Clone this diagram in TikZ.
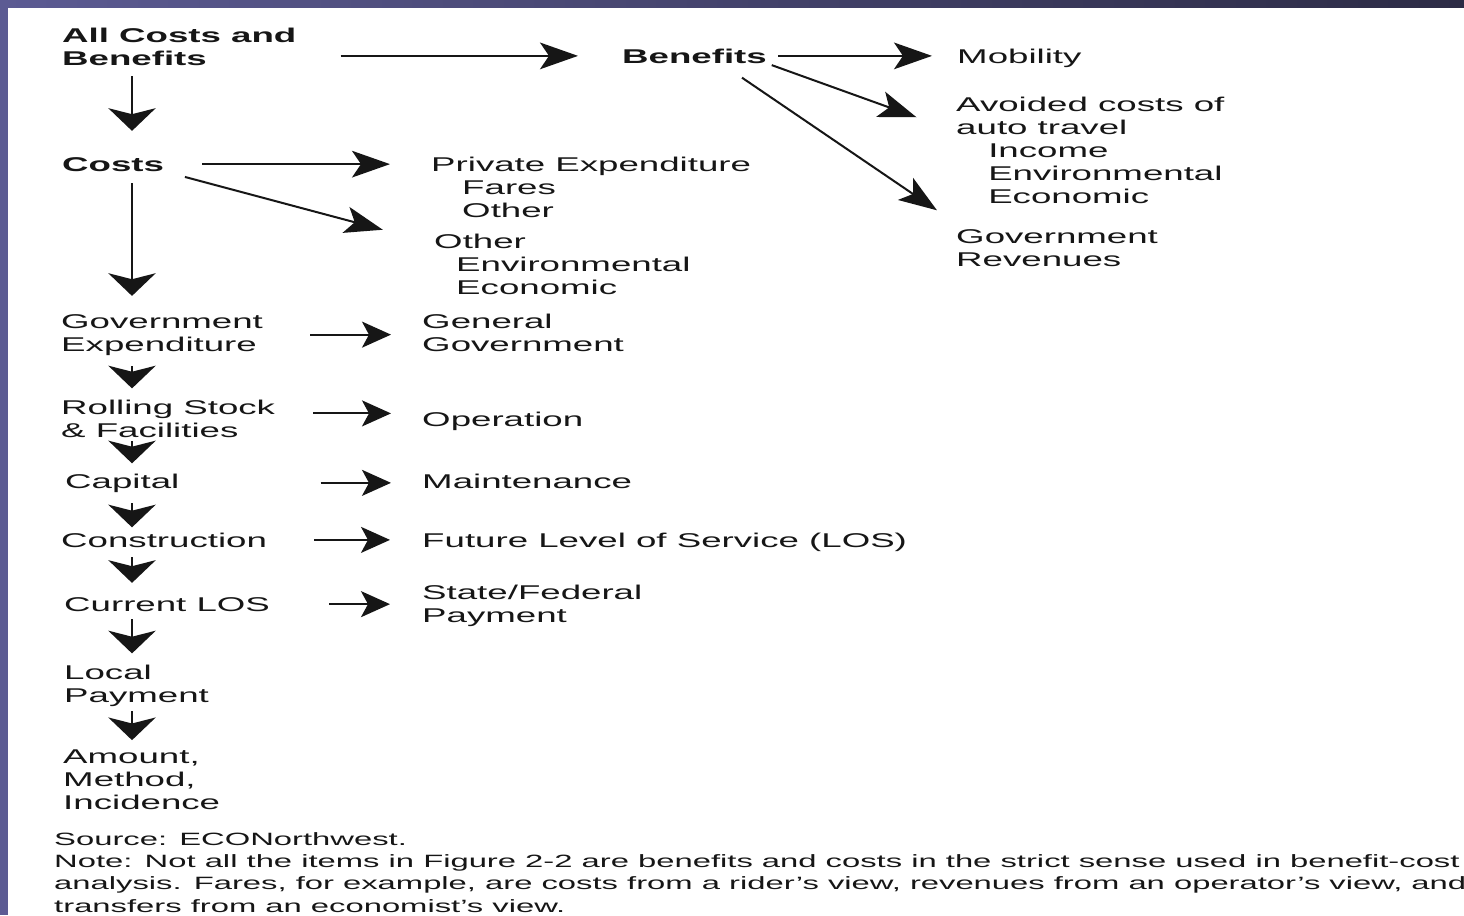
\documentclass[tikz,border=0pt]{standalone}
\usepackage{fontspec}
\setmainfont{Liberation Sans}[FakeStretch=1.84]
\usetikzlibrary{arrows.meta}
\definecolor{FrameLight}{HTML}{5C5B93}
\definecolor{FrameDark}{HTML}{2C2B45}
\definecolor{FigInk}{HTML}{161616}
\tikzset{
  every node/.style={text=FigInk, inner sep=0pt, anchor=base west, align=left},
  item/.style={font=\fontsize{17}{19.6}\selectfont},
  heading/.style={font=\fontsize{17}{19.6}\selectfont\bfseries},
  footnote/.style={font=\fontsize{15.2}{18.8}\selectfont},
  flow/.style={-{Stealth[length=1.14cm,width=0.8cm,inset=0.27cm]}, draw=FigInk, line width=0.06cm},
  stub/.style={-{Stealth[length=0.87cm,width=0.78cm,inset=0.21cm]}, draw=FigInk, line width=0.06cm},
  drop/.style={-{Stealth[length=0.68cm,width=1.42cm,inset=0.18cm]}, draw=FigInk, line width=0.06cm},
}
\begin{document}
\begin{tikzpicture}[x=0.03cm, y=-0.03cm]
  % slide frame
  \fill[FrameLight] (0,0) rectangle (1464,915);
  \shade[left color=FrameLight, right color=FrameDark] (0,0) rectangle (1464,8);
  \fill[white] (8,8) rectangle (1464,915);
  \useasboundingbox (0,0) rectangle (1464,915);
  % left column (multi-line nodes sit on their last baseline)
  \node[heading] (allcb) at (62,65) {All Costs and\\Benefits};
  \node[heading] (costs) at (62,171) {Costs};
  \node[item] (govexp) at (61,351) {Government\\Expenditure};
  \node[item] (rolling) at (61,437) {Rolling Stock\\\& Facilities};
  \node[item] (capital) at (65,488) {Capital};
  \node[item] (constr) at (61,547) {Construction};
  \node[item] (curlos) at (64,611) {Current LOS};
  \node[item] (local) at (64,702) {Local\\Payment};
  \node[item] (amount) at (63,809) {Amount,\\Method,\\Incidence};
  % middle column
  \node[heading] (benefits) at (622,63) {Benefits};
  \node[item] (priv) at (431,217) {Private Expenditure\\\hspace*{0.93cm}Fares\\\hspace*{0.93cm}Other};
  \node[item] (other) at (434,294) {Other\\\hspace*{0.66cm}Environmental\\\hspace*{0.66cm}Economic};
  \node[item] (general) at (422,351) {General\\Government};
  \node[item] (operation) at (422,426) {Operation};
  \node[item] (maint) at (422,488) {Maintenance};
  \node[item] (future) at (422,547) {Future Level of Service (LOS)};
  \node[item] (state) at (422,622) {State/Federal\\Payment};
  % right column
  \node[item] (mobility) at (957,63) {Mobility};
  \node[item] (avoided) at (956,203) {Avoided costs of\\auto travel\\\hspace*{0.96cm}Income\\\hspace*{0.96cm}Environmental\\\hspace*{0.96cm}Economic};
  \node[item] (govrev) at (956,266) {Government\\Revenues};
  % source and note
  \node[footnote] (source) at (54,912) {Source: ECONorthwest.\\Note: Not all the items in Figure 2-2 are benefits and costs in the strict sense used in benefit-cost\\analysis. Fares, for example, are costs from a rider's view, revenues from an operator's view, and\\transfers from an economist's view.};
  % top row
  \draw[flow, shorten <=1.32cm, shorten >=1.32cm] (allcb.east |- benefits.west) -- (benefits.west);
  \draw[flow, shorten <=0.33cm, shorten >=0.75cm] (benefits.east) -- (benefits.east -| mobility.west);
  \draw[flow, shorten <=0.15cm, shorten >=1.26cm] (benefits.south east) -- ([yshift=-1.05cm]avoided.north west);
  \draw[flow, shorten <=0.76cm, shorten >=0.69cm] ([xshift=-1.38cm]benefits.south east) -- ([yshift=0.17cm]govrev.north west);
  % costs branches
  \draw[flow, shorten <=1.14cm, shorten >=1.23cm] (costs.east) -- (costs.east -| priv.west);
  \draw[flow, shorten <=0.64cm, shorten >=1.59cm] (costs.south east) -- ([yshift=-0.3cm]other.north west);
  % side arrows
  \draw[stub, shorten <=1.41cm, shorten >=0.93cm] (govexp.east) -- (govexp.east -| general.west);
  \draw[stub, shorten <=1.14cm, shorten >=0.93cm] ([yshift=0.15cm]rolling.east) -- ([yshift=0.15cm]rolling.east -| operation.west);
  \draw[stub, shorten <=4.23cm, shorten >=0.93cm] (capital.east) -- (capital.east -| maint.west);
  \draw[stub, shorten <=1.41cm, shorten >=0.96cm] (constr.east) -- (constr.east -| future.west);
  \draw[stub, shorten <=1.77cm, shorten >=0.96cm] (curlos.east) -- (curlos.east -| state.west);
  % spine
  \coordinate (spine) at (132,0);
  \foreach \a/\b/\s/\e in {allcb/costs/0.33/0.78, costs/govexp/0.36/0.54, govexp/rolling/0.33/0.33,
      rolling/capital/0.12/0.30, capital/constr/0.33/0.15, constr/curlos/0.30/0.42,
      curlos/local/0.24/0.33, local/amount/0.15/0.27}
    \draw[drop, shorten <=\s cm, shorten >=\e cm] (\a.south -| spine) -- (\b.north -| spine);
\end{tikzpicture}
\end{document}
